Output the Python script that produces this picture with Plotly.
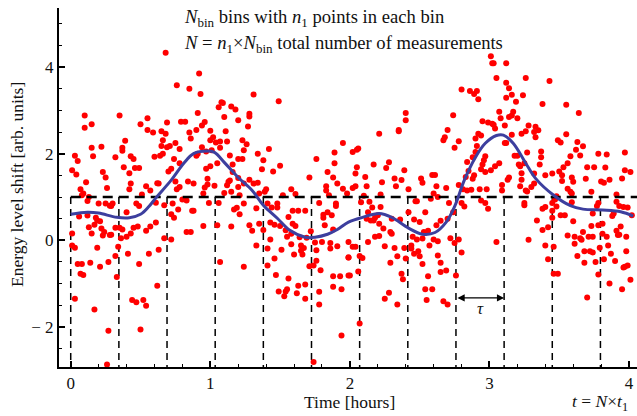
import plotly.graph_objects as go

# measured energy-level shifts: (time [hours], shift [arb. units])
measurements = [
    # upper-left region
    (0.68, 4.33), (0.92, 3.85), (0.76, 3.58), (0.85, 3.5), (0.93, 3.38), (0.10, 2.88), (0.10, 2.6), (0.15, 2.68),
    (0.35, 2.88), (0.55, 2.82), (0.50, 2.68), (0.55, 2.55), (0.59, 2.49), (0.65, 2.52), (0.69, 2.72), (0.68, 2.46),
    (0.79, 2.74), (0.82, 2.74), (0.91, 2.94), (0.85, 2.49), (0.90, 2.55), (0.86, 2.35), (0.94, 2.65), (0.15, 2.14),
    (0.22, 2.16), (0.39, 2.3), (0.37, 2.14), (0.37, 2.07), (0.32, 1.92), (0.16, 1.94), (0.03, 1.95), (0.05, 1.83),
    (0.01, 1.62), (0.04, 1.52), (0.38, 1.69), (0.42, 1.55), (0.43, 1.94), (0.45, 1.88), (0.46, 1.67), (0.49, 1.67),
    (0.43, 1.31), (0.42, 1.18), (0.23, 1.58), (0.25, 1.45), (0.26, 1.21), (0.11, 1.34), (0.07, 1.18), (0.09, 1.08),
    (0.08, 1.04), (0.13, 1.0), (0.12, 0.91), (0.20, 0.85), (0.25, 0.85), (0.30, 0.85), (0.51, 1.06), (0.54, 1.25),
    (0.57, 1.15), (0.47, 0.85), (0.60, 1.93), (0.64, 1.95), (0.65, 2.18), (0.66, 2.31), (0.66, 2.0), (0.69, 2.15),
    (0.71, 2.18), (0.75, 2.25), (0.78, 2.11), (0.74, 1.88), (0.72, 1.65), (0.70, 1.59), (0.78, 1.78), (0.75, 1.36),
    (0.76, 1.18), (0.78, 1.23), (0.84, 1.36), (0.88, 1.31), (0.90, 1.95), (0.91, 2.0), (0.94, 2.15), (0.62, 1.32),
    (0.63, 1.31), (0.61, 0.87), (0.73, 0.85), (0.80, 0.94), (0.83, 0.92), (0.95, 1.08),
    # upper, 1-2 h
    (1.31, 3.37), (1.49, 3.21), (1.08, 3.19), (1.09, 3.17), (1.06, 3.07), (1.15, 3.09), (1.18, 3.02), (1.28, 2.92),
    (1.28, 2.86), (1.10, 2.85), (1.20, 2.77), (0.96, 2.73), (1.00, 2.53), (1.11, 2.52), (1.27, 2.63), (1.02, 2.38),
    (1.00, 2.31), (1.07, 2.28), (1.12, 2.28), (1.04, 2.26), (1.23, 2.31), (1.26, 2.22), (1.24, 2.08), (1.07, 2.14),
    (1.01, 2.08), (0.97, 2.05), (1.14, 1.96), (1.20, 1.88), (1.23, 1.88), (1.05, 1.78), (1.00, 1.71), (0.97, 1.65),
    (1.16, 1.75), (1.34, 2.0), (1.42, 2.11), (1.38, 1.85), (1.37, 1.64), (1.50, 1.72), (1.45, 1.59), (1.16, 1.58),
    (1.20, 1.44), (1.13, 1.35), (1.14, 1.38), (1.12, 1.27), (1.03, 1.26), (0.98, 1.42), (0.98, 1.29), (1.20, 1.23),
    (1.24, 1.31), (1.28, 1.4), (1.31, 1.31), (1.34, 1.33), (1.40, 1.18), (1.39, 1.12), (1.35, 1.08), (1.21, 1.04),
    (1.15, 1.12), (1.10, 1.09), (0.96, 1.22), (1.58, 1.18), (1.61, 1.07), (1.52, 1.04), (1.71, 1.45), (1.76, 1.88),
    (1.89, 2.03), (1.95, 2.25), (1.84, 1.58), (1.89, 1.78), (1.88, 1.45), (1.83, 1.25), (1.83, 1.15), (1.85, 1.04),
    (1.91, 1.31), (1.95, 1.19), (1.98, 1.08), (1.78, 0.86), (1.90, 0.85), (1.24, 0.85), (1.06, 0.86), (0.99, 0.86),
    (1.41, 0.85), (1.48, 0.85),
    # upper, 2-3 h
    (3.01, 4.25), (3.02, 4.09), (2.80, 3.48), (2.86, 3.45), (2.89, 3.38), (2.91, 3.45), (2.92, 3.26), (2.40, 2.94),
    (2.40, 2.77), (2.74, 2.89), (2.21, 2.46), (2.35, 2.55), (2.35, 2.52), (2.70, 2.55), (2.68, 2.38), (2.67, 2.31),
    (2.78, 2.29), (2.75, 2.14), (2.95, 2.75), (2.99, 2.72), (3.02, 2.69), (2.92, 2.46), (2.94, 2.42), (2.90, 2.35),
    (2.91, 2.18), (2.90, 2.04), (2.97, 1.94), (2.96, 1.85), (2.95, 1.75), (2.88, 1.92), (2.84, 1.81), (2.85, 1.6),
    (2.83, 1.46), (2.89, 1.5), (2.88, 1.42), (2.94, 1.64), (2.97, 1.58), (3.01, 1.62), (2.02, 2.04), (2.05, 2.09),
    (2.06, 2.12), (2.05, 1.69), (2.04, 1.54), (2.17, 1.75), (2.28, 1.8), (2.26, 1.67), (2.39, 1.62), (2.11, 1.46),
    (2.04, 1.25), (2.02, 1.21), (2.12, 1.25), (2.23, 1.34), (2.32, 1.43), (2.37, 1.39), (2.33, 1.25), (2.42, 1.18),
    (2.51, 1.43), (2.52, 1.33), (2.59, 1.51), (2.61, 1.51), (2.62, 1.25), (2.69, 1.21), (2.60, 1.08), (2.22, 1.06),
    (2.10, 1.03), (2.63, 1.0), (2.58, 0.96), (2.78, 1.28), (2.81, 1.18), (2.84, 1.15), (2.87, 1.17), (2.93, 1.18),
    (2.98, 1.18), (2.80, 0.86), (2.71, 0.86), (2.14, 0.89), (2.08, 0.88), (2.47, 0.9), (2.48, 0.9), (2.94, 0.92),
    (2.97, 0.86),
    # upper, 3-4 h
    (3.03, 4.09), (3.12, 4.09), (3.05, 3.75), (3.26, 3.75), (3.43, 3.68), (3.12, 3.64), (3.14, 3.51), (3.16, 3.36),
    (3.24, 3.35), (3.12, 3.29), (3.19, 3.2), (3.38, 3.15), (3.55, 3.13), (3.64, 2.94), (3.07, 2.97), (3.17, 2.97),
    (3.16, 2.88), (3.20, 2.82), (3.08, 2.82), (3.14, 2.85), (3.11, 2.65), (3.03, 2.67), (3.04, 2.58), (3.28, 2.65),
    (3.33, 2.62), (3.35, 2.54), (3.32, 2.5), (3.26, 2.52), (3.23, 2.46), (3.16, 2.44), (3.33, 2.38), (3.55, 2.45),
    (3.49, 2.31), (3.51, 2.26), (3.63, 2.27), (3.67, 2.17), (3.62, 2.09), (3.11, 2.25), (3.12, 2.25), (3.37, 2.05),
    (3.65, 1.96), (3.58, 1.94), (3.78, 2.0), (3.84, 1.98), (3.97, 2.03), (3.18, 1.95), (3.20, 1.95), (3.37, 1.92),
    (3.27, 2.03), (3.21, 1.75), (3.22, 1.71), (3.25, 1.78), (3.07, 1.78), (3.04, 1.71), (3.36, 1.75), (3.56, 1.78),
    (3.53, 1.69), (3.50, 1.59), (3.70, 1.69), (3.75, 1.69), (3.83, 1.68), (3.97, 1.62), (4.01, 1.58), (3.23, 1.55),
    (3.23, 1.4), (3.32, 1.54), (3.40, 1.5), (3.45, 1.54), (3.52, 1.5), (3.14, 1.45), (3.13, 1.4), (3.09, 1.28),
    (3.32, 1.31), (3.30, 1.23), (3.22, 1.25), (3.26, 1.15), (3.09, 1.15), (3.52, 1.37), (3.59, 1.45), (3.69, 1.42),
    (3.80, 1.36), (3.82, 1.33), (3.86, 1.4), (3.95, 1.43), (3.60, 1.35), (3.56, 1.19), (3.58, 1.12), (3.59, 1.08),
    (3.48, 1.02), (3.73, 1.12), (3.91, 1.06), (3.27, 1.13), (3.25, 0.86), (3.45, 0.86), (3.47, 0.94), (3.59, 0.88),
    (3.78, 0.86), (3.91, 0.89),
    # lower, 0-1 h
    (0.06, 0.55), (0.12, 0.57), (0.18, 0.52), (0.19, 0.46), (0.21, 0.44), (0.17, 0.36), (0.13, 0.3), (0.15, 0.16),
    (0.01, 0.16), (0.22, 0.27), (0.24, 0.19), (0.23, 0.11), (0.28, 0.12), (0.29, 0.13), (0.32, 0.29), (0.35, 0.29),
    (0.37, 0.25), (0.36, 0.05), (0.40, 0.08), (0.43, 0.16), (0.45, 0.29), (0.48, 0.32), (0.54, 0.22), (0.57, 0.32),
    (0.61, 0.41), (0.40, 0.65), (0.49, 0.79), (0.67, 0.05), (0.72, 0.02), (0.72, 0.6), (0.74, 0.52), (0.77, 0.71),
    (0.87, 0.68), (0.88, 0.68), (0.83, 0.19), (0.86, 0.19), (0.95, 0.33), (0.01, -0.12), (0.03, -0.17), (0.19, -0.17),
    (0.34, -0.15), (0.41, -0.31), (0.32, -0.36), (0.27, -0.5), (0.21, -0.61), (0.14, -0.52), (0.05, -0.55), (0.08, -0.55),
    (0.07, -0.77), (0.09, -0.8), (0.33, -0.85), (0.49, -0.55), (0.56, -0.31), (0.63, -0.22), (0.62, -1.05), (0.03, -1.35),
    (0.44, -1.38), (0.47, -1.43), (0.52, -1.38), (0.54, -1.51), (0.17, -1.6), (0.27, -2.09), (0.50, -2.06), (0.26, -2.87),
    (0.67, 0.81), (0.28, 0.80), (0.29, 0.79),
    # lower, 1-2 h
    (1.17, 0.71), (1.19, 0.75), (1.21, 0.6), (1.33, 0.74), (1.44, 0.76), (1.48, 0.76), (1.59, 0.68), (1.63, 0.68),
    (1.68, 0.68), (1.56, 0.54), (1.59, 0.38), (1.61, 0.33), (1.50, 0.33), (1.54, 0.23), (1.58, 0.15), (1.55, 0.08),
    (1.05, 0.35), (1.15, 0.32), (1.28, 0.35), (1.30, 0.22), (1.35, 0.38), (1.38, 0.24), (1.43, 0.41), (1.46, 0.36),
    (1.43, 0.02), (1.33, -0.12), (1.41, -0.19), (1.51, -0.22), (1.46, -0.42), (1.58, -0.09), (1.64, 0.07), (1.69, 0.06),
    (1.72, 0.21), (1.65, -0.12), (1.67, -0.18), (1.65, -0.24), (1.66, -0.33), (1.60, -0.33), (1.07, -0.5), (1.24, -0.61),
    (1.41, -0.58), (1.47, -0.8), (1.56, -0.88), (1.55, -1.13), (1.54, -1.18), (1.49, -1.18), (1.53, -1.29), (1.63, -1.05),
    (1.62, -1.22), (1.68, -1.02), (1.68, -1.35), (1.71, -0.6), (1.74, -0.58), (1.76, -0.47), (1.79, -0.69), (1.76, -0.23),
    (1.75, -0.05), (1.80, -0.04), (1.86, -0.06), (1.86, -0.19), (1.82, 0.35), (1.81, 0.59), (1.81, 0.52), (1.84, 0.65),
    (1.87, 0.58), (1.90, 0.79), (1.88, 0.25), (1.91, -0.14), (1.99, -0.4), (1.88, -0.83), (1.93, -0.83), (1.88, -1.07),
    (1.94, -1.13), (1.78, -1.19), (1.78, -1.48), (1.94, -2.2), (1.74, -2.81), (1.99, -0.81),
    # lower, 2-3 h
    (2.12, 0.5), (2.15, 0.46), (2.17, 0.46), (2.18, 0.52), (2.16, 0.76), (2.22, 0.77), (2.13, 0.65), (2.20, 0.58),
    (2.21, 0.38), (2.24, 0.27), (2.29, 0.19), (2.30, 0.15), (2.30, 0.5), (2.36, 0.48), (2.42, 0.65), (2.46, 0.48),
    (2.50, 0.42), (2.54, 0.65), (2.56, 0.22), (2.53, 0.19), (2.48, 0.02), (2.52, 0.04), (2.45, 0.08), (2.44, -0.12),
    (2.44, -0.19), (2.46, -0.31), (2.49, -0.25), (2.50, -0.37), (2.52, -0.55), (2.56, -0.83), (2.54, -1.13), (2.59, -1.13),
    (2.55, -1.38), (2.67, -1.41), (2.70, -1.48), (2.40, -0.42), (2.39, -0.18), (2.34, -0.37), (2.32, -0.18), (2.29, -0.52),
    (2.37, -0.77), (2.38, -0.9), (2.28, -1.21), (2.25, -1.35), (2.34, -1.48), (2.13, -0.04), (2.18, 0.08), (2.21, 0.1),
    (2.25, -0.14), (2.02, -0.15), (1.99, -0.04), (1.99, -0.4), (2.04, -0.15), (2.07, -0.36), (2.09, -0.41), (2.06, -0.72),
    (2.00, -0.81), (2.07, -1.92), (2.57, -0.12), (2.60, 0.02), (2.63, -0.02), (2.63, -0.35), (2.65, -0.52), (2.65, -0.73),
    (2.69, -0.7), (2.62, 0.35), (2.65, 0.45), (2.70, 0.5), (2.72, 0.05), (2.75, -0.06), (2.78, 0.02), (2.80, -0.28),
    (2.76, -0.81), (2.74, 0.65), (2.82, 0.78), (2.99, 0.73),
    # lower, 3-4 h
    (3.25, 0.81), (3.38, 0.73), (3.40, 0.77), (3.45, 0.68), (3.48, 0.78), (3.51, 0.58), (3.54, 0.58), (3.45, 0.52),
    (3.34, 0.46), (3.42, 0.3), (3.38, 0.24), (3.60, 0.44), (3.05, -0.04), (3.28, 0.01), (3.40, -0.12), (3.46, -0.15),
    (3.42, -0.44), (3.46, -0.77), (3.49, -0.77), (3.56, 0.11), (3.61, 0.08), (3.61, -0.08), (3.65, 0.05), (3.67, 0.19),
    (3.66, 0.01), (3.71, 0.08), (3.74, 0.08), (3.73, 0.33), (3.74, 0.62), (3.77, 0.79), (3.78, 0.35), (3.81, 0.38),
    (3.81, 0.15), (3.84, 0.08), (3.85, -0.12), (3.79, -0.17), (3.63, -0.36), (3.68, -0.25), (3.72, -0.25), (3.74, -0.28),
    (3.68, -0.52), (3.76, -0.5), (3.82, -0.44), (3.87, -0.31), (3.90, -0.48), (3.78, -0.79), (3.86, -1.0), (3.95, -1.13),
    (4.01, -0.91), (3.96, -0.63), (3.97, -0.61), (3.99, -0.58), (3.98, -0.25), (3.91, 0.22), (3.92, 0.12), (3.93, 0.13),
    (3.94, 0.32), (3.98, 0.08), (3.88, 0.56), (3.89, 0.62), (3.93, 0.79), (3.96, 0.77), (3.99, 0.76), (4.02, 0.58),
    (3.70, -1.32),
]

# smooth trend curve
curve_t = [0, 0.12, 0.2, 0.33, 0.42, 0.5, 0.56, 0.61, 0.72, 0.81, 0.88, 0.98, 1.03, 1.1, 1.2, 1.3, 1.38,
           1.48, 1.57, 1.68, 1.75, 1.84, 1.91, 1.99, 2.09, 2.21, 2.3, 2.42, 2.52, 2.61, 2.69, 2.75, 2.82,
           2.9, 2.97, 3.05, 3.1, 3.17, 3.26, 3.33, 3.46, 3.58, 3.67, 3.81, 3.94, 4.03]
curve_v = [0.6, 0.65, 0.63, 0.53, 0.52, 0.6, 0.78, 0.98, 1.39, 1.78, 2.0, 2.06, 2.03, 1.8, 1.45, 1.15, 0.81,
           0.51, 0.23, 0.07, 0.07, 0.14, 0.25, 0.42, 0.53, 0.62, 0.53, 0.28, 0.14, 0.18, 0.42, 0.78, 1.39,
           1.92, 2.24, 2.42, 2.43, 2.24, 1.78, 1.43, 1.04, 0.8, 0.72, 0.7, 0.66, 0.56]

bin_edges = [0, 0.345, 0.69, 1.035, 1.38, 1.725, 2.07, 2.415, 2.76, 3.105, 3.45, 3.795]
threshold = 1.0
tau_bin = (2.76, 3.105)

x_range = [-0.084, 4.057]
y_range = [-2.926, 5.365]

FONT = "Liberation Serif"
TXT = "#111"
pt_t = [p[0] for p in measurements]
pt_v = [p[1] for p in measurements]

fig = go.Figure()

# vertical bin separators
vx, vy = [], []
for e in bin_edges:
    vx += [e, e, None]
    vy += [threshold, y_range[0], None]
fig.add_trace(go.Scatter(x=vx, y=vy, mode="lines",
                         line=dict(color="black", width=1.5, dash="7px,5px"),
                         hoverinfo="skip", showlegend=False))

fig.add_trace(go.Scatter(x=pt_t, y=pt_v, mode="markers",
                         marker=dict(color="#ff0000", size=6, line=dict(width=0)),
                         showlegend=False))

# horizontal threshold line
fig.add_trace(go.Scatter(x=[0, x_range[1]], y=[threshold, threshold], mode="lines",
                         line=dict(color="black", width=2.5, dash="10px,6px"),
                         hoverinfo="skip", showlegend=False))

fig.add_trace(go.Scatter(x=curve_t, y=curve_v, mode="lines",
                         line=dict(color="#3d3f9e", width=3, shape="spline", smoothing=1.0),
                         showlegend=False))

# tau double arrow
fig.add_annotation(x=tau_bin[1], y=-1.33, ax=tau_bin[0], ay=-1.33, axref="x", ayref="y",
                   xref="x", yref="y", text="", showarrow=True, arrowhead=2, arrowside="end+start",
                   arrowwidth=1.2, arrowsize=1.2, arrowcolor="black", standoff=0, startstandoff=0)
fig.add_annotation(x=(tau_bin[0] + tau_bin[1]) / 2, y=-1.57, xref="x", yref="y", text="<i>τ</i>",
                   showarrow=False, font=dict(family=FONT, size=17, color=TXT))

# text block
fig.add_annotation(x=0.797, y=5.13, xref="x", yref="y", xanchor="left", yanchor="middle",
                   text="<i>N</i><sub>bin</sub> bins with <i>n</i><sub>1</sub> points in each bin",
                   showarrow=False, font=dict(family=FONT, size=18.6, color=TXT))
fig.add_annotation(x=0.797, y=4.53, xref="x", yref="y", xanchor="left", yanchor="middle",
                   text="<i>N</i> = <i>n</i><sub>1</sub>×<i>N</i><sub>bin</sub> total number of measurements",
                   showarrow=False, font=dict(family=FONT, size=18.6, color=TXT))

W, H = 637, 416
ML, MR, MT, MB = 59, 0, 8, 49


def px_to_paper(px, py):
    return (px - ML) / (W - ML - MR), 1 - (py - MT) / (H - MT - MB)


# axis labels (placed by pixel centre)
for text, px, py, angle in [("Time [hours]", 349, 402, 0),
                            ("<i>t</i> = <i>N</i>×<i>t</i><sub>1</sub>", 600, 402, 0),
                            ("Energy level shift [arb. units]", 17, 185, -90)]:
    xx, yy = px_to_paper(px, py)
    fig.add_annotation(x=xx, y=yy, xref="paper", yref="paper", xanchor="center", yanchor="middle",
                       text=text, textangle=angle, showarrow=False,
                       font=dict(family=FONT, size=17.5, color=TXT))

fig.update_layout(
    width=W, height=H,
    margin=dict(l=ML, r=MR, t=MT, b=MB),
    paper_bgcolor="white", plot_bgcolor="white",
    font=dict(family=FONT, size=17, color=TXT),
    xaxis=dict(range=x_range, showgrid=False, zeroline=False, showline=True, linecolor="black",
               linewidth=2, ticks="inside", ticklen=6, tickwidth=1.5, tickcolor="black",
               tickvals=[0, 1, 2, 3, 4], ticktext=["0", "1", "2", "3", "4"],
               minor=dict(dtick=0.2, tick0=0, ticks="inside", ticklen=3, tickwidth=1.2, tickcolor="black"),
               tickfont=dict(family=FONT, size=17, color=TXT)),
    yaxis=dict(range=y_range, showgrid=False, zeroline=False, showline=True, linecolor="black",
               linewidth=2, ticks="inside", ticklen=6, tickwidth=1.5, tickcolor="black",
               tickvals=[-2, 0, 2, 4], ticktext=["− 2", "0", "2", "4"],
               minor=dict(dtick=0.5, tick0=0, ticks="inside", ticklen=3, tickwidth=1.2, tickcolor="black"),
               tickfont=dict(family=FONT, size=17, color=TXT)),
)

fig.write_html("out.html")
